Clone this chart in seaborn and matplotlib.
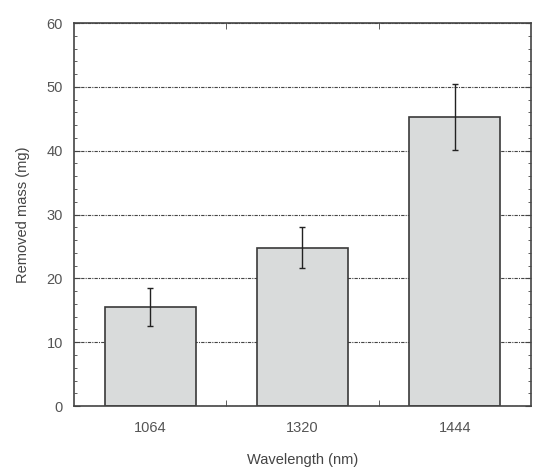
import pandas as pd
import seaborn as sns
import matplotlib.pyplot as plt
from matplotlib.ticker import MultipleLocator, FixedLocator

# values
wavelengths = ['1064', '1320', '1444']
removed_mass = [15.5, 24.8, 45.3]
mass_error = [3.0, 3.2, 5.2]

df = pd.DataFrame({'wavelength': wavelengths, 'mass': removed_mass})

sns.set_style('white')
plt.rcParams['font.family'] = ['Liberation Sans', 'DejaVu Sans']

fig = plt.figure(figsize=(5.33, 4.70), dpi=100)
ax = fig.add_axes([0.139, 0.136, 0.857, 0.815])

# gridlines behind the bars
ax.set_axisbelow(True)
ax.yaxis.grid(True, color='#444444', linestyle=(0, (3, 1, 1, 1)), linewidth=0.8)

sns.barplot(data=df, x='wavelength', y='mass', color='#d9dbdb', width=0.6,
            edgecolor='#3a3a3a', linewidth=1.2, saturation=1, errorbar=None, ax=ax)

# error bars at the bar centres
centres = [p.get_x() + p.get_width() / 2 for p in ax.patches]
tops = [p.get_height() for p in ax.patches]
ax.errorbar(centres, tops, yerr=mass_error, fmt='none', ecolor='#222222',
            elinewidth=1.0, capsize=2.5, capthick=1.0)

ax.set_xlim(-0.5, len(wavelengths) - 0.5)
ax.set_ylim(0, 60)
ax.yaxis.set_major_locator(MultipleLocator(10))
ax.yaxis.set_minor_locator(MultipleLocator(2))
ax.xaxis.set_minor_locator(FixedLocator([0.5, 1.5]))

ax.tick_params(axis='y', which='both', direction='in', left=True, right=True,
               colors='#444444', labelcolor='#555555', labelsize=10.5, pad=8)
ax.tick_params(axis='y', which='major', length=4)
ax.tick_params(axis='y', which='minor', length=2.5)
ax.tick_params(axis='x', which='major', length=0, labelcolor='#555555',
               labelsize=10.5, pad=11)
ax.tick_params(axis='x', which='minor', direction='in', top=True, bottom=True,
               length=4, color='#444444')

for side in ax.spines.values():
    side.set_color('#444444')
    side.set_linewidth(1.2)

ax.set_xlabel('Wavelength (nm)', color='#444444', fontsize=10.5, labelpad=13)
ax.set_ylabel('Removed mass (mg)', color='#444444', fontsize=10.5, labelpad=12)

fig.savefig('out.png', dpi=100)
